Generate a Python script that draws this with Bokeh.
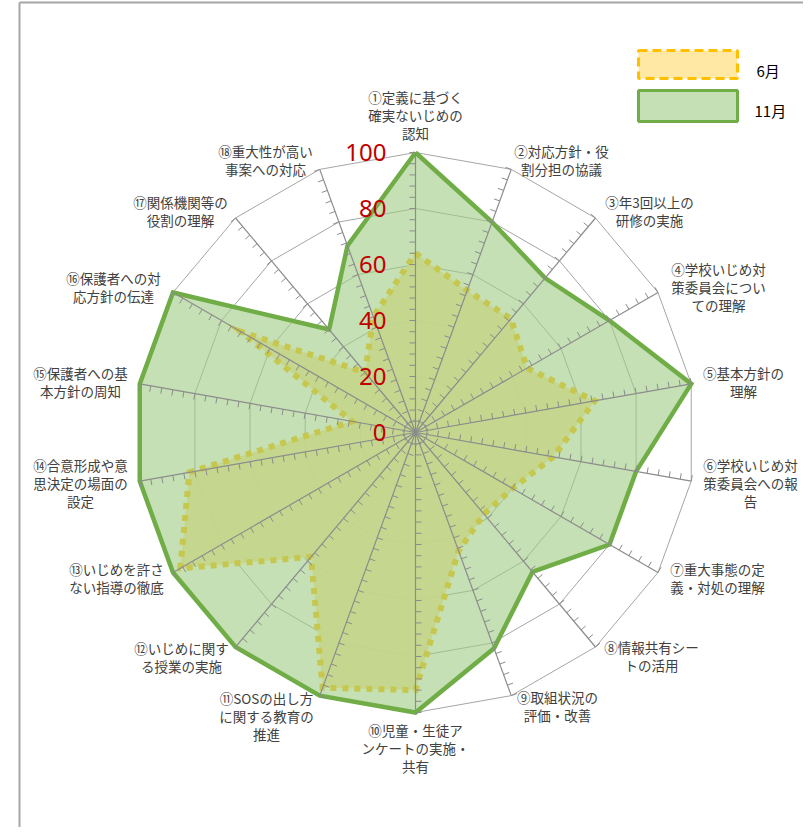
import math
from bokeh.plotting import figure
from bokeh.models import Range1d
from bokeh.core.properties import value
from bokeh.embed import file_html
from bokeh.resources import INLINE

# ---------------- data ----------------
categories = [
    "①定義に基づく\n確実ないじめの\n認知",
    "②対応方針・役\n割分担の協議",
    "③年3回以上の\n研修の実施",
    "④学校いじめ対\n策委員会につい\nての理解",
    "⑤基本方針の\n理解",
    "⑥学校いじめ対\n策委員会への報\n告",
    "⑦重大事態の定\n義・対処の理解",
    "⑧情報共有シー\nトの活用",
    "⑨取組状況の\n評価・改善",
    "⑩児童・生徒ア\nンケートの実施・\n共有",
    "⑪SOSの出し方\nに関する教育の\n推進",
    "⑫いじめに関す\nる授業の実施",
    "⑬いじめを許さ\nない指導の徹底",
    "⑭合意形成や意\n思決定の場面の\n設定",
    "⑮保護者への基\n本方針の周知",
    "⑯保護者への対\n応方針の伝達",
    "⑰関係機関等の\n役割の理解",
    "⑱重大性が高い\n事案への対応",
]
june = [64, 54, 53, 46, 65, 50, 40, 38, 45, 92, 97, 58, 97, 82, 23, 72, 28, 44]
november = [100, 80, 72, 80, 100, 80, 80, 65, 82, 100, 100, 100, 100, 100, 100, 100, 48, 71]
series_names = ["6月", "11月"]
radial_ticks = [0, 20, 40, 60, 80, 100]
minor_step = 4

# ---------------- layout ----------------
W, H = 803, 827
CX_S, CY_S = 415, 432      # centre of radar on the page (px)
SCALE = 2.8                # px per value unit


def ux(xs):
    return (xs - CX_S) / SCALE


def uy(ys):
    return (CY_S - ys) / SCALE


p = figure(width=W, height=H,
           x_range=Range1d(ux(0), ux(W)),
           y_range=Range1d(uy(H), uy(0)),
           output_backend="svg", toolbar_location=None,
           x_axis_type=None, y_axis_type=None, min_border=0)
p.outline_line_color = None
p.background_fill_color = "white"
p.border_fill_color = "white"
p.xgrid.visible = False
p.ygrid.visible = False

N = len(categories)
angles = [math.radians(90 - i * 360.0 / N) for i in range(N)]


def polar(vals):
    xs = [v * math.cos(a) for v, a in zip(vals, angles)]
    ys = [v * math.sin(a) for v, a in zip(vals, angles)]
    return xs, ys


# grid rings (under the series)
for t in radial_ticks[1:]:
    rx, ry = polar([t] * N)
    p.line(rx + [rx[0]], ry + [ry[0]], line_color="#A6A6A6", line_width=1)

# 6月 series
jx, jy = polar(june)
p.patch(jx, jy, fill_color="#FFE699", fill_alpha=0.9, line_color=None)
p.line(jx + [jx[0]], jy + [jy[0]], line_color="#FFC000", line_width=6,
       line_dash="6 6", line_join="miter")

# 11月 series
nx, ny = polar(november)
p.patch(nx, ny, fill_color="#9ECB82", fill_alpha=0.6, line_color=None)
p.line(nx + [nx[0]], ny + [ny[0]], line_color="#70AD47", line_width=4.5,
       line_join="miter")

# spokes
ox, oy = polar([radial_ticks[-1]] * N)
p.segment(x0=[0] * N, y0=[0] * N, x1=ox, y1=oy, line_color="#8C8C8C", line_width=1.2)

# minor tick marks on each spoke (counter-clockwise side)
tick_len = 6 / SCALE
tx0, ty0, tx1, ty1 = [], [], [], []
for a in angles:
    px_, py_ = math.cos(a + math.pi / 2), math.sin(a + math.pi / 2)
    v = minor_step
    while v <= radial_ticks[-1]:
        bx, by = v * math.cos(a), v * math.sin(a)
        tx0.append(bx)
        ty0.append(by)
        tx1.append(bx + tick_len * px_)
        ty1.append(by + tick_len * py_)
        v += minor_step
p.segment(x0=tx0, y0=ty0, x1=tx1, y1=ty1, line_color="#8C8C8C", line_width=1)

# radial value labels
p.text(x=[ux(386)] * len(radial_ticks), y=radial_ticks,
       text=[str(t) for t in radial_ticks],
       text_align="right", text_baseline="middle",
       text_font=value("Noto Sans"), text_font_size="24px", text_color="#C00000")

# category labels (block centre x, first line y on the page)
label_pos = [
    (415, 96), (561, 150), (649, 201), (718, 268), (743, 372), (750, 464),
    (717, 568), (651, 646), (557, 696), (415, 729), (266, 697), (181, 647),
    (116, 568), (80, 464), (80, 372), (113, 277), (180, 201), (265, 150),
]
line_gap = 18.2
lx, ly, lt = [], [], []
for cat, (x0, y0) in zip(categories, label_pos):
    for k, line in enumerate(cat.split("\n")):
        lx.append(ux(x0))
        ly.append(uy(y0 + k * line_gap))
        lt.append(line)
p.text(x=lx, y=ly, text=lt, text_align="center", text_baseline="middle",
       text_font=value("Noto Sans CJK JP"), text_font_size="13.5px",
       text_color="#404040")

# legend
p.quad(left=[ux(638)], right=[ux(737)], top=[uy(50)], bottom=[uy(78)],
       fill_color="#FFE699", fill_alpha=0.9, line_color="#FFC000",
       line_width=3, line_dash="9 5")
p.quad(left=[ux(638)], right=[ux(737)], top=[uy(90)], bottom=[uy(121)],
       fill_color="#9ECB82", fill_alpha=0.6, line_color="#70AD47", line_width=3)
p.text(x=[ux(756), ux(754)], y=[uy(70), uy(110)], text=series_names,
       text_align="left", text_baseline="middle",
       text_font=value("Noto Sans CJK JP"), text_font_size="15px", text_color="#000000")

# chart-area border (left and top edges)
p.segment(x0=[ux(19), ux(19)], y0=[uy(2), uy(2)], x1=[ux(19), ux(W)], y1=[uy(H), uy(2)],
          line_color="#A6A6A6", line_width=2)

open("out.html", "w").write(file_html(p, INLINE))
